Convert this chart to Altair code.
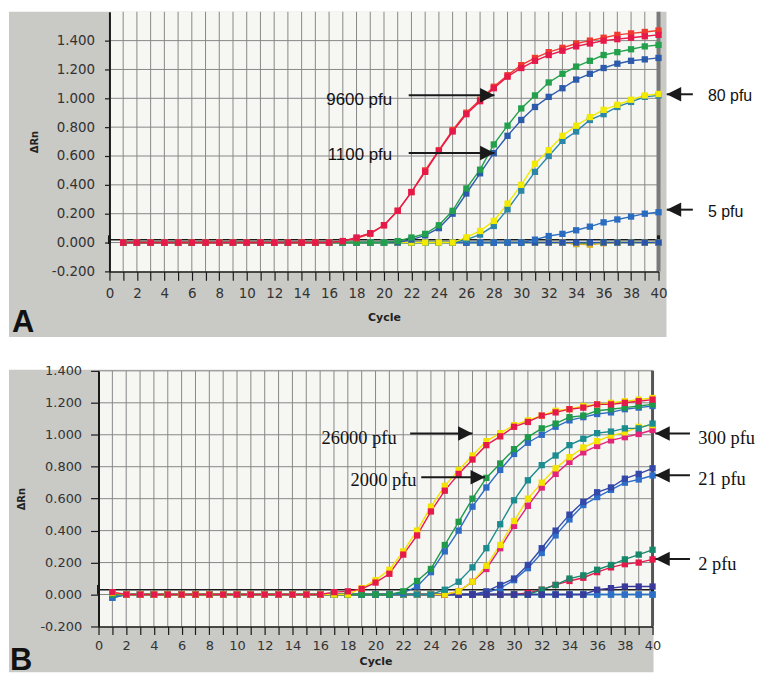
import altair as alt
import pandas as pd

# ---------------- shared axis values ----------------
CYCLES = list(range(1, 41))
X_TICKS = list(range(0, 41))
X_GRID = list(range(1, 40))

# ---------------- Panel A (dRn per cycle 1..40) ----------------
A_9600_1 = [0, 0, 0, 0, 0, 0, 0, 0, 0, 0,
            0, 0, 0, 0, 0, 0, 0.01, 0.035, 0.065, 0.12,
            0.22, 0.35, 0.49, 0.635, 0.77, 0.89, 0.98, 1.07, 1.15, 1.21,
            1.26, 1.30, 1.33, 1.36, 1.38, 1.40, 1.41, 1.42, 1.43, 1.44]
A_9600_2 = [0, 0, 0, 0, 0, 0, 0, 0, 0, 0,
            0, 0, 0, 0, 0, 0, 0.01, 0.03, 0.06, 0.12,
            0.22, 0.35, 0.50, 0.64, 0.78, 0.90, 0.99, 1.08, 1.16, 1.23,
            1.28, 1.32, 1.35, 1.38, 1.40, 1.42, 1.44, 1.45, 1.46, 1.47]
A_1100_1 = [0, 0, 0, 0, 0, 0, 0, 0, 0, 0,
            0, 0, 0, 0, 0, 0, 0, 0, 0, 0,
            0.01, 0.035, 0.06, 0.12, 0.22, 0.375, 0.505, 0.68, 0.81, 0.93,
            1.02, 1.11, 1.17, 1.22, 1.26, 1.30, 1.32, 1.34, 1.36, 1.37]
A_1100_2 = [0, 0, 0, 0, 0, 0, 0, 0, 0, 0,
            0, 0, 0, 0, 0, 0, 0, 0, 0, 0,
            0.0, 0.02, 0.05, 0.10, 0.20, 0.34, 0.48, 0.62, 0.74, 0.85,
            0.94, 1.01, 1.07, 1.13, 1.17, 1.21, 1.24, 1.26, 1.27, 1.28]
A_80_1 = [0, 0, 0, 0, 0, 0, 0, 0, 0, 0,
          0, 0, 0, 0, 0, 0, 0, 0, 0, 0,
          0, 0, 0, 0, 0, 0.036, 0.08, 0.15, 0.27, 0.40,
          0.546, 0.64, 0.74, 0.81, 0.87, 0.92, 0.955, 0.99, 1.02, 1.03]
A_80_2 = [0, 0, 0, 0, 0, 0, 0, 0, 0, 0,
          0, 0, 0, 0, 0, 0, 0, 0, 0, 0,
          0, 0, 0, 0, 0, 0.02, 0.055, 0.115, 0.23, 0.36,
          0.49, 0.60, 0.705, 0.77, 0.85, 0.89, 0.94, 0.975, 1.01, 1.02]
A_5 = [0, 0, 0, 0, 0, 0, 0, 0, 0, 0,
       0, 0, 0, 0, 0, 0, 0, 0, 0, 0,
       0, 0, 0, 0, 0, 0, 0, 0, 0, 0,
       0.02, 0.045, 0.06, 0.085, 0.11, 0.14, 0.16, 0.18, 0.20, 0.21]
A_NEG_1 = [0, 0, 0, 0, 0, 0, 0, 0, 0, 0,
           0, 0, 0, 0, 0, 0, 0, 0, 0, 0,
           0, 0, 0, 0, 0, 0, 0, 0, 0, 0,
           0, 0, 0, -0.01, -0.005, 0, 0, 0, 0, 0]
A_NEG_2 = [0, 0, 0, 0, 0, 0, 0, 0, 0, 0,
           0, 0, 0, 0, 0, 0, 0, 0, 0, 0,
           0, 0, 0, 0, 0, 0, 0, 0, 0, 0,
           0, 0, 0, -0.01, -0.015, -0.005, 0, 0, 0, 0]
A_NEG_3 = [0, 0, 0, 0, 0, 0, 0, 0, 0, 0,
           0, 0, 0, 0, 0, 0, 0, 0, 0, 0,
           0, 0, 0, 0, 0, 0, 0, 0, 0, 0,
           0, 0, 0, 0, 0, 0, 0, 0, 0, 0]

A_SERIES = [
    ("A neg 1", "#22a04b", A_NEG_1),
    ("A neg 2", "#e0b020", A_NEG_2),
    ("A neg 3", "#2a55a8", A_NEG_3),
    ("5 pfu", "#2a6cc0", A_5),
    ("80 pfu b", "#2b86a8", A_80_2),
    ("80 pfu a", "#f2ea00", A_80_1),
    ("1100 pfu b", "#2d5bab", A_1100_2),
    ("1100 pfu a", "#22a04b", A_1100_1),
    ("9600 pfu b", "#f03a2e", A_9600_2),
    ("9600 pfu a", "#e6194b", A_9600_1),
]

# ---------------- Panel B ----------------
B_26000_1 = [0.01, 0, 0, 0, 0, 0, 0, 0, 0, 0,
             0, 0, 0, 0, 0, 0, 0, 0, 0.04, 0.09,
             0.155, 0.27, 0.40, 0.55, 0.68, 0.78, 0.87, 0.96, 1.01, 1.06,
             1.09, 1.12, 1.15, 1.16, 1.18, 1.19, 1.20, 1.21, 1.22, 1.23]
B_26000_2 = [0.015, 0, 0, 0, 0, 0, 0, 0, 0, 0,
             0, 0, 0, 0, 0, 0, 0.015, 0.02, 0.035, 0.075,
             0.13, 0.25, 0.37, 0.52, 0.65, 0.755, 0.845, 0.935, 0.99, 1.05,
             1.08, 1.12, 1.14, 1.16, 1.17, 1.19, 1.19, 1.20, 1.21, 1.22]
B_2000_1 = [0, 0, 0, 0, 0, 0, 0, 0, 0, 0,
            0, 0, 0, 0, 0, 0, 0, 0, 0, 0,
            0, 0.02, 0.085, 0.16, 0.31, 0.455, 0.60, 0.73, 0.82, 0.91,
            0.985, 1.04, 1.07, 1.11, 1.12, 1.15, 1.16, 1.17, 1.18, 1.19]
B_2000_2 = [0, 0, 0, 0, 0, 0, 0, 0, 0, 0,
            0, 0, 0, 0, 0, 0, 0, 0, 0, 0,
            0, 0.01, 0.05, 0.14, 0.27, 0.40, 0.55, 0.67, 0.78, 0.88,
            0.95, 1.00, 1.05, 1.09, 1.11, 1.13, 1.14, 1.16, 1.17, 1.18]
B_300_1 = [0, 0, 0, 0, 0, 0, 0, 0, 0, 0,
           0, 0, 0, 0, 0, 0, 0, 0, 0, 0,
           0, 0, 0, 0, 0.03, 0.08, 0.17, 0.29, 0.44, 0.59,
           0.715, 0.81, 0.87, 0.935, 0.975, 1.01, 1.02, 1.04, 1.04, 1.07]
B_300_2 = [0, 0, 0, 0, 0, 0, 0, 0, 0, 0,
           0, 0, 0, 0, 0, 0, 0, 0, 0, 0,
           0, 0, 0, 0, 0, 0.02, 0.08, 0.18, 0.31, 0.46,
           0.60, 0.70, 0.79, 0.86, 0.92, 0.96, 0.995, 1.015, 1.05, 1.06]
B_300_3 = [0, 0, 0, 0, 0, 0, 0, 0, 0, 0,
           0, 0, 0, 0, 0, 0, 0, 0, 0, 0,
           0, 0, 0, 0, 0, 0.02, 0.08, 0.16, 0.29, 0.43,
           0.555, 0.67, 0.755, 0.83, 0.89, 0.93, 0.965, 0.985, 1.005, 1.03]
B_21_1 = [0, 0, 0, 0, 0, 0, 0, 0, 0, 0,
          0, 0, 0, 0, 0, 0, 0, 0, 0, 0,
          0, 0, 0, 0, 0, 0, 0, 0.02, 0.06, 0.10,
          0.185, 0.29, 0.40, 0.50, 0.58, 0.64, 0.67, 0.725, 0.755, 0.79]
B_21_2 = [0, 0, 0, 0, 0, 0, 0, 0, 0, 0,
          0, 0, 0, 0, 0, 0, 0, 0, 0, 0,
          0, 0, 0, 0, 0, 0, 0, 0.01, 0.04, 0.09,
          0.165, 0.26, 0.37, 0.47, 0.56, 0.61, 0.655, 0.70, 0.72, 0.745]
B_2_1 = [0, 0, 0, 0, 0, 0, 0, 0, 0, 0,
         0, 0, 0, 0, 0, 0, 0, 0, 0, 0,
         0, 0, 0, 0, 0, 0, 0, 0, 0, 0,
         0, 0.03, 0.06, 0.10, 0.12, 0.155, 0.185, 0.22, 0.25, 0.28]
B_2_2 = [0, 0, 0, 0, 0, 0, 0, 0, 0, 0,
         0, 0, 0, 0, 0, 0, 0, 0, 0, 0,
         0, 0, 0, 0, 0, 0, 0, 0, 0, 0,
         0.01, 0.03, 0.06, 0.085, 0.105, 0.14, 0.17, 0.19, 0.20, 0.22]
B_NEG_1 = [-0.02, 0, 0, 0, 0, 0, 0, 0, 0, 0,
           0, 0, 0, 0, 0, 0, 0, 0, 0, 0,
           0, 0, 0, 0, 0, 0, 0, 0, 0, 0,
           0, 0, 0, 0, 0, 0, 0, 0, 0, 0]
B_NEG_2 = [0, 0, 0, 0, 0, 0, 0, 0, 0, 0,
           0, 0, 0, 0, 0, 0, 0, 0, 0, 0,
           0, 0, 0, 0, 0, 0, 0, 0, 0, 0,
           0, 0, 0, 0, 0, 0.03, 0.04, 0.05, 0.05, 0.05]

B_SERIES = [
    ("B neg 1", "#1b8c8f", B_NEG_1),
    ("B neg 3", "#2f6ec8", B_NEG_1),
    ("2 pfu b", "#e6194b", B_2_2),
    ("2 pfu a", "#17876a", B_2_1),
    ("21 pfu b", "#2f6ec8", B_21_2),
    ("21 pfu a", "#3348a8", B_21_1),
    ("B neg 2", "#3a3a9c", B_NEG_2),
    ("300 pfu c", "#e2247a", B_300_3),
    ("300 pfu b", "#f2e400", B_300_2),
    ("300 pfu a", "#1b8c8f", B_300_1),
    ("2000 pfu b", "#2e6cc4", B_2000_2),
    ("2000 pfu a", "#1f9a48", B_2000_1),
    ("26000 pfu b", "#f2e400", B_26000_1),
    ("26000 pfu a", "#e6194b", B_26000_2),
]

# ---------------- annotations (cycle, dRn coordinates) ----------------
A_LABELS = ["9600 pfu", "1100 pfu", "80 pfu", "5 pfu"]
A_LABEL_X = [15.8, 15.9, 43.6, 43.6]
A_LABEL_Y = [0.986, 0.607, 1.014, 0.214]
A_LABEL_SIZE = [17, 17, 16, 16]
A_ARROW_TAIL = [21.8, 21.8, 42.5, 42.5]
A_ARROW_TIP = [28.05, 28.05, 40.6, 40.6]
A_ARROW_Y = [1.021, 0.621, 1.028, 0.228]
A_ARROW_DIR = ["r", "r", "l", "l"]

B_LABELS = ["26000 pfu", "2000 pfu", "300 pfu", "21 pfu", "2 pfu"]
B_LABEL_X = [16.1, 18.2, 43.3, 43.3, 43.3]
B_LABEL_Y = [0.977, 0.715, 0.977, 0.721, 0.192]
B_LABEL_SIZE = [18.5, 18.5, 18.5, 18.5, 18.5]
B_ARROW_TAIL = [22.5, 23.3, 42.7, 42.7, 42.7]
B_ARROW_TIP = [27.0, 27.9, 40.2, 40.2, 40.2]
B_ARROW_Y = [1.008, 0.734, 1.008, 0.746, 0.223]
B_ARROW_DIR = ["r", "r", "l", "l", "l"]

GREY = "#c9c9c5"
PLOT_BG = "#f6f6f3"
GRID = "#878787"
INK = "#1a1a1a"
HEADS = {"r": "M-2,-1L0,0L-2,1Z", "l": "M2,-1L0,0L2,1Z"}


def long_df(series):
    rows = []
    for k, (name, color, vals) in enumerate(series):
        assert len(vals) == 40
        for c, v in zip(CYCLES, vals):
            rows.append({"series": name, "col": color, "cycle": c, "value": v, "k": k})
    return pd.DataFrame(rows)


def x_axis(label_size, tick, lpad, tpad):
    return alt.Axis(values=X_TICKS, labelExpr="datum.value % 2 === 0 ? datum.label : ''",
                    grid=False, tickSize=tick, tickColor=INK, tickWidth=1.2,
                    domainColor=INK, domainWidth=1.5, labelFont="DejaVu Sans",
                    labelFontSize=label_size, labelColor="#333333", labelPadding=lpad,
                    labelFlush=False, labelOverlap=False, title="Cycle",
                    titleFont="DejaVu Sans", titleFontSize=11, titleFontWeight="bold",
                    titleColor="#222222", titlePadding=tpad, zindex=1)


def y_axis(vals, label_size, tick, lpad, tpad, offset):
    return alt.Axis(values=vals, labelExpr="replace(format(datum.value, '.3f'), '\u2212', '-')",
                    grid=False, tickSize=tick, tickColor=INK, tickWidth=1.2,
                    domainColor=INK, domainWidth=2, labelFont="DejaVu Sans",
                    labelFontSize=label_size, labelColor="#333333", labelPadding=lpad,
                    labelFlush=False, title="\u0394Rn", titleFont="DejaVu Sans",
                    titleFontSize=10, titleFontWeight="bold", titleColor="#222222",
                    titlePadding=tpad, offset=offset, zindex=1)


def panel(series, W, H, x0, ydom, ygrid, thr, grey, border, xax, yax,
          letter, letter_xy, labels, lx, ly, lsize, tail, tip, ay, adir, afont):
    # x0: pixel position of cycle 0 relative to the view origin
    xs = alt.Scale(domain=[0, 40], range=[x0, W], nice=False, zero=False)
    ys = alt.Scale(domain=ydom, nice=False, zero=False)

    def X(f):
        return alt.X(f, scale=xs, axis=xax)

    def Y(f):
        return alt.Y(f, scale=ys, axis=yax)

    one = pd.DataFrame({"d": [0]})
    df = long_df(series)

    bg = alt.Chart(one).mark_rect(color=GREY).encode(
        x=alt.value(grey[0]), x2=alt.value(W + grey[1]),
        y=alt.value(grey[2]), y2=alt.value(H + grey[3]))
    pbg = alt.Chart(one).mark_rect(color=PLOT_BG).encode(
        x=alt.value(x0), x2=alt.value(W), y=alt.value(0), y2=alt.value(H))
    vgrid = alt.Chart(pd.DataFrame({"cycle": X_GRID})).mark_rule(
        color=GRID, strokeWidth=1).encode(x=X("cycle:Q"), y=alt.value(0), y2=alt.value(H))
    hgrid = alt.Chart(pd.DataFrame({"value": ygrid})).mark_rule(
        color=GRID, strokeWidth=1).encode(y=Y("value:Q"), x=alt.value(x0), x2=alt.value(W))
    bord = alt.Chart(pd.DataFrame({"cycle": [40]})).mark_rule(
        color=border[0], strokeWidth=border[1]).encode(
        x=X("cycle:Q"), y=alt.value(0), y2=alt.value(H))
    thr_line = alt.Chart(pd.DataFrame({"cycle": [0], "c2": [40], "value": [thr]})).mark_rule(
        color=INK, strokeWidth=1.5).encode(x=X("cycle:Q"), x2="c2:Q", y=Y("value:Q"))
    caps = alt.Chart(pd.DataFrame({"cycle": [0, 40], "value": [thr - 0.03, thr - 0.03],
                                   "v2": [thr + 0.03, thr + 0.03]})).mark_rule(
        color=INK, strokeWidth=3).encode(x=X("cycle:Q"), y=Y("value:Q"), y2="v2:Q")
    lines = alt.Chart(df).mark_line(strokeWidth=1.4).encode(
        x=X("cycle:Q"), y=Y("value:Q"),
        color=alt.Color("col:N", scale=None), detail="series:N", order="cycle:Q")
    pts = alt.Chart(df).mark_point(shape="square", filled=True, size=40, opacity=1,
                                   strokeWidth=0).encode(
        x=X("cycle:Q"), y=Y("value:Q"), color=alt.Color("col:N", scale=None))

    adf = pd.DataFrame({"tail": tail, "cycle": tip, "value": ay,
                        "head": [HEADS[d] for d in adir]})
    shafts = alt.Chart(adf).mark_rule(color=INK, strokeWidth=2).encode(
        x=X("tail:Q"), x2="cycle:Q", y=Y("value:Q"))
    heads = alt.Chart(adf).mark_point(filled=True, size=210, opacity=1, color=INK,
                                      strokeWidth=0).encode(
        x=X("cycle:Q"), y=Y("value:Q"), shape=alt.Shape("head:N", scale=None))
    tdf = pd.DataFrame({"cycle": lx, "value": ly, "t": labels, "fs": lsize})
    texts = alt.Chart(tdf).mark_text(align="left", baseline="middle", font=afont,
                                     color="#111111").encode(
        x=X("cycle:Q"), y=Y("value:Q"), text="t:N",
        size=alt.Size("fs:Q", scale=None))
    let = alt.Chart(one).mark_text(align="left", baseline="alphabetic", font="Liberation Sans",
                                   fontSize=31, fontWeight="bold", color="#111111").encode(
        x=alt.value(letter_xy[0]), y=alt.value(letter_xy[1]), text=alt.value(letter))

    return alt.layer(bg, pbg, vgrid, hgrid, bord, thr_line, caps, lines, pts,
                     shafts, heads, texts, let).properties(width=W, height=H)


A_YT = [-0.2, 0.0, 0.2, 0.4, 0.6, 0.8, 1.0, 1.2, 1.4]
B_YT = [-0.2, 0.0, 0.2, 0.4, 0.6, 0.8, 1.0, 1.2, 1.4]

pA = panel(A_SERIES, 552, 261, 0, [-0.2, 1.6], [0.0, 0.2, 0.4, 0.6, 0.8, 1.0, 1.2, 1.4],
           0.02, (-101, 8, 0, 66), ("#7a7a7a", 4),
           x_axis(13.5, 9, 6, 12), y_axis(A_YT, 13.5, 5, 10, 12, 0),
           "A", (-98, 322), A_LABELS, A_LABEL_X, A_LABEL_Y, A_LABEL_SIZE,
           A_ARROW_TAIL, A_ARROW_TIP, A_ARROW_Y, A_ARROW_DIR, "Liberation Sans")

pB = panel(B_SERIES, 546, 257, -11, [-0.2, 1.4], [0.0, 0.2, 0.4, 0.6, 0.8, 1.0, 1.2, 1.4],
           0.03, (-101, 1, -1, 46), ("#555555", 3),
           x_axis(13, 8, 5, 3), y_axis(B_YT, 13, 8, 9, 14, 11),
           "B", (-100, 301), B_LABELS, B_LABEL_X, B_LABEL_Y, B_LABEL_SIZE,
           B_ARROW_TAIL, B_ARROW_TIP, B_ARROW_Y, B_ARROW_DIR, "Liberation Serif")

chart = alt.vconcat(pA, pB, spacing=27).properties(
    padding={"left": 1, "top": 0, "right": 0, "bottom": 0},
    background="white",
).configure_view(stroke=None)

chart.save("out.html", embed_options={"renderer": "svg", "actions": False})
